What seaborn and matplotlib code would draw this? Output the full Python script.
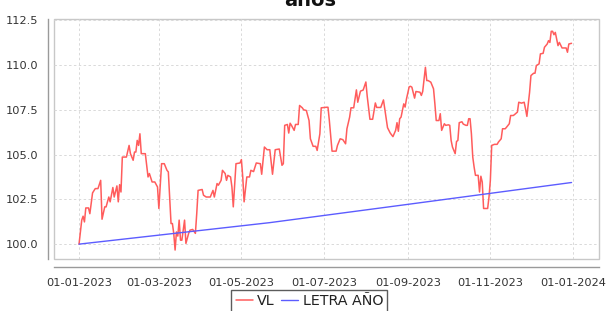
import matplotlib
matplotlib.use("Agg")
import matplotlib.pyplot as plt
import matplotlib.dates as mdates
from matplotlib.patches import Rectangle
from matplotlib.lines import Line2D
import seaborn as sns
import pandas as pd

YEAR = "2023"
vl_dates = [
    "01-01", "01-03", "01-04", "01-05", "01-06", "01-08", "01-09", "01-11", "01-13", "01-15",
    "01-17", "01-18", "01-20", "01-21", "01-23", "01-24", "01-26", "01-27", "01-29", "01-30",
    "01-31", "02-01", "02-02", "02-05", "02-07", "02-08", "02-10", "02-11", "02-12", "02-13",
    "02-14", "02-15", "02-16", "02-19", "02-21", "02-22", "02-24", "02-26", "02-28", "03-01",
    "03-03", "03-05", "03-07", "03-08", "03-10", "03-11", "03-12", "03-13", "03-14", "03-15",
    "03-16", "03-17", "03-18", "03-19", "03-20", "03-21", "03-23", "03-24", "03-26", "03-28",
    "03-29", "03-30", "04-02", "04-03", "04-05", "04-08", "04-10", "04-11", "04-13", "04-14",
    "04-16", "04-17", "04-19", "04-20", "04-21", "04-23", "04-24", "04-25", "04-27", "04-30",
    "05-01", "05-02", "05-03", "05-05", "05-07", "05-08", "05-10", "05-12", "05-15", "05-16",
    "05-18", "05-20", "05-22", "05-24", "05-26", "05-29", "05-31", "06-01", "06-02", "06-04",
    "06-05", "06-06", "06-07", "06-09", "06-10", "06-12", "06-13", "06-15", "06-16", "06-18",
    "06-20", "06-21", "06-23", "06-25", "06-26", "06-28", "06-29", "07-03", "07-04", "07-05",
    "07-07", "07-10", "07-11", "07-13", "07-15", "07-17", "07-18", "07-20", "07-21", "07-23",
    "07-24", "07-25", "07-26", "07-28", "07-30", "08-01", "08-02", "08-04", "08-06", "08-08",
    "08-09", "08-12", "08-14", "08-16", "08-17", "08-19", "08-20", "08-21", "08-23", "08-24",
    "08-25", "08-26", "08-27", "08-29", "08-30", "08-31", "09-02", "09-03", "09-04", "09-06",
    "09-07", "09-10", "09-11", "09-12", "09-14", "09-15", "09-16", "09-18", "09-20", "09-21",
    "09-22", "09-24", "09-25", "09-26", "09-28", "09-29", "10-01", "10-02", "10-03", "10-04",
    "10-06", "10-07", "10-08", "10-09", "10-11", "10-12", "10-14", "10-15", "10-16", "10-17",
    "10-18", "10-19", "10-20", "10-21", "10-23", "10-24", "10-25", "10-26", "10-27", "10-29",
    "10-30", "10-31", "11-01", "11-02", "11-04", "11-06", "11-07", "11-09", "11-10", "11-12",
    "11-13", "11-15", "11-16", "11-18", "11-19", "11-21", "11-22", "11-24", "11-26", "11-27",
    "11-28", "11-30", "12-01", "12-03", "12-04", "12-05", "12-07", "12-08", "12-10", "12-11",
    "12-13", "12-14", "12-15", "12-16", "12-17", "12-18", "12-19", "12-21", "12-22", "12-24",
    "12-27", "12-28", "12-29", "12-31",
]
vl_values = [
    100.00, 101.34, 101.56, 101.24, 102.02, 102.02, 101.70, 102.86, 103.10, 103.10,
    103.56, 101.39, 102.08, 102.08, 102.63, 102.36, 103.16, 102.63, 103.25, 102.36,
    103.32, 102.91, 104.86, 104.86, 105.51, 105.05, 104.68, 105.14, 105.14, 105.79,
    105.51, 106.16, 105.05, 105.05, 103.75, 103.94, 103.47, 103.47, 103.19, 101.99,
    104.49, 104.49, 104.12, 104.03, 101.15, 101.15, 100.60, 99.67, 100.68, 100.45,
    101.34, 100.22, 100.22, 100.78, 101.34, 100.04, 100.60, 100.78, 100.82, 100.60,
    101.71, 103.00, 103.05, 102.73, 102.63, 102.63, 103.00, 102.63, 103.38, 103.29,
    103.56, 104.12, 103.94, 103.56, 103.84, 103.75, 103.19, 102.08, 104.49, 104.53,
    104.72, 103.75, 102.36, 103.75, 103.75, 104.12, 104.05, 104.53, 104.49, 103.90,
    105.42, 105.27, 105.27, 103.90, 105.27, 105.31, 104.40, 104.49, 106.63, 106.68,
    106.20, 106.75, 106.63, 106.35, 106.68, 106.68, 107.74, 107.61, 107.50, 107.46,
    106.90, 105.88, 105.46, 105.46, 105.23, 106.16, 107.61, 107.64, 107.64, 106.90,
    105.19, 105.19, 105.51, 105.88, 105.83, 105.60, 106.44, 107.09, 107.61, 107.61,
    108.11, 108.61, 107.92, 108.54, 108.60, 109.05, 108.25, 106.97, 106.97, 107.88,
    107.63, 107.63, 108.05, 107.00, 106.50, 106.20, 106.10, 106.00, 106.35, 106.78,
    106.30, 107.00, 107.09, 107.83, 107.65, 108.10, 108.78, 108.81, 108.76, 108.15,
    108.52, 108.48, 108.30, 108.52, 109.87, 109.13, 109.13, 109.04, 108.67, 107.83,
    106.90, 106.90, 107.28, 106.35, 106.72, 106.63, 106.66, 106.63, 105.79, 105.42,
    105.05, 105.73, 105.79, 106.78, 106.83, 106.70, 106.63, 106.63, 107.00, 107.00,
    106.16, 104.86, 104.30, 103.84, 103.84, 102.91, 103.79, 103.47, 101.99, 101.99,
    101.99, 102.63, 103.56, 105.51, 105.57, 105.57, 105.70, 105.88, 106.44, 106.44,
    106.53, 106.72, 107.18, 107.18, 107.24, 107.37, 107.92, 107.87, 107.92, 107.55,
    107.13, 108.48, 109.41, 109.54, 109.54, 109.97, 110.06, 110.62, 110.65, 110.99,
    111.17, 111.36, 111.26, 111.88, 111.88, 111.69, 111.82, 111.08, 111.26, 110.95,
    110.95, 110.71, 111.17, 111.21,
]
letra_dates = ["01-01", "05-22", "09-02", "12-31"]
letra_values = [100.00, 101.20, 102.23, 103.44]

series_names = ["VL", "LETRA AÑO"]
title_text = "años"
y_ticks = [100.0, 102.5, 105.0, 107.5, 110.0, 112.5]
x_tick_dates = ["2023-01-01", "2023-03-01", "2023-05-01", "2023-07-01",
                "2023-09-01", "2023-11-01", "2024-01-01"]

df_vl = pd.DataFrame({"fecha": pd.to_datetime([f"{YEAR}-{d}" for d in vl_dates]),
                      "valor": vl_values})
df_le = pd.DataFrame({"fecha": pd.to_datetime([f"{YEAR}-{d}" for d in letra_dates]),
                      "valor": letra_values})

sns.set_style("white")
plt.rcParams["font.family"] = ["DejaVu Sans"]

fig = plt.figure(figsize=(6.09, 3.11), dpi=100)
ax = fig.add_axes([54 / 609, 1 - 259 / 311, (599 - 54) / 609, (259 - 19.3) / 311])

red = "#ff5c5c"
blue = "#5c5cff"
sns.lineplot(data=df_vl, x="fecha", y="valor", ax=ax, color=red, linewidth=1.1,
             estimator=None, sort=False, label=series_names[0], legend=False)
sns.lineplot(data=df_le, x="fecha", y="valor", ax=ax, color=blue, linewidth=1.0,
             estimator=None, sort=False, label=series_names[1], legend=False)

start = pd.Timestamp(f"{YEAR}-01-01")
ax.set_xlim(start - pd.Timedelta(days=18.5), start + pd.Timedelta(days=384.3))
ax.set_ylim(99.17, 112.55)

ax.set_xticks(pd.to_datetime(x_tick_dates))
ax.xaxis.set_major_formatter(mdates.DateFormatter("%d-%m-%Y"))
ax.set_yticks(y_ticks)
ax.set_yticklabels([f"{v:.1f}" for v in y_ticks])
ax.set_xlabel("")
ax.set_ylabel("")

ax.grid(True, color="#d9d9d9", linewidth=0.7, linestyle=(0, (2.5, 2.5)))
ax.set_axisbelow(True)

for s in ["top", "right"]:
    ax.spines[s].set_visible(False)
ax.spines["left"].set_position(("outward", 4))
ax.spines["bottom"].set_position(("outward", 6))
for s in ["left", "bottom"]:
    ax.spines[s].set_color("#9a9a9a")
    ax.spines[s].set_linewidth(1.0)
ax.add_patch(Rectangle((0, 0), 1, 1, transform=ax.transAxes, fill=False,
                       edgecolor="#c8c8c8", linewidth=1.0, clip_on=False, zorder=0.5))

ax.tick_params(axis="both", which="major", direction="out", length=2, width=0.8,
               color="#9a9a9a", labelsize=8.2, labelcolor="#333333", pad=5)
ax.tick_params(axis="x", pad=6)

fig.text(0.51, 1 - 5.5 / 311, title_text, ha="center", va="baseline",
         fontsize=14, fontweight="bold", color="#111111")

handles = [Line2D([], [], color=red, linewidth=1.1), Line2D([], [], color=blue, linewidth=1.0)]
leg = fig.legend(handles, series_names, loc="upper center", bbox_to_anchor=(0.508, 1 - 290 / 311),
                 ncol=2, frameon=True, fancybox=False, fontsize=10.3, handlelength=1.2,
                 handletextpad=0.3, columnspacing=0.45, borderpad=0.3, borderaxespad=0)
leg.get_frame().set_edgecolor("#333333")
leg.get_frame().set_linewidth(1.0)
for t in leg.get_texts():
    t.set_color("#222222")

fig.savefig("out.png", dpi=100)
